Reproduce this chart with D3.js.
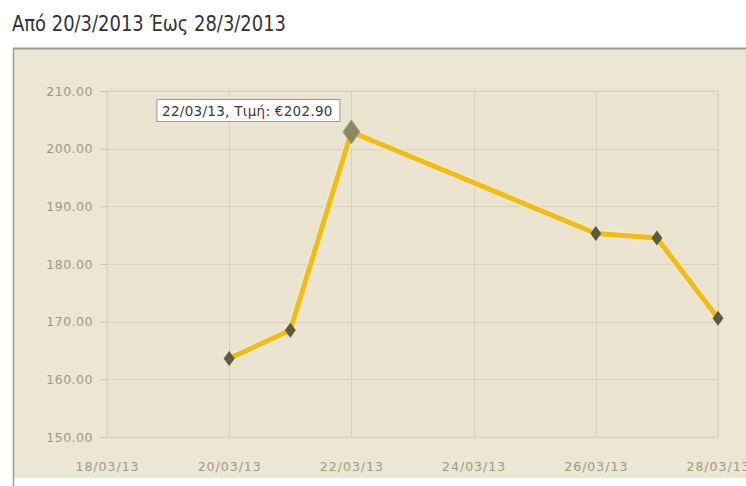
<!DOCTYPE html>
<html>
<head>
<meta charset="utf-8">
<script src="https://cdn.jsdelivr.net/npm/d3@7"></script>
<style>
  body { margin: 0; background: #ffffff; }
  svg { display: block; }
</style>
</head>
<body>
<div id="chart"></div>
<script>
// ---------------- data ----------------
var dates = ["2013-03-20", "2013-03-21", "2013-03-22", "2013-03-26", "2013-03-27", "2013-03-28"];
var prices = [163.6, 168.5, 202.9, 185.3, 184.5, 170.6];
var yTicks = [150, 160, 170, 180, 190, 200, 210];
var xTicks = ["2013-03-18", "2013-03-20", "2013-03-22", "2013-03-24", "2013-03-26", "2013-03-28"];
var title = "Από 20/3/2013 Έως 28/3/2013";
var highlight = 2; // point with tooltip
var tooltipText = "22/03/13, Τιμή: €202.90";

var width = 746, height = 486;
var parse = d3.timeParse("%Y-%m-%d");
var fmtX = d3.timeFormat("%d/%m/%y");

var data = dates.map(function(d, i) { return { date: parse(d), value: prices[i] }; });

// ---------------- definitions ----------------
var plot = { left: 107, right: 718, top: 91, bottom: 437 };

var x = d3.scaleTime()
    .domain([parse(xTicks[0]), parse(xTicks[xTicks.length - 1])])
    .range([plot.left, plot.right]);

var y = d3.scaleLinear()
    .domain([150, 210])
    .range([plot.bottom, plot.top]);

var svg = d3.select("#chart").append("svg")
    .attr("width", width)
    .attr("height", height);

// title
svg.append("text")
    .attr("x", 12)
    .attr("y", 31)
    .attr("textLength", 274)
    .attr("lengthAdjust", "spacingAndGlyphs")
    .style("font-family", "'Liberation Sans Narrow', 'DejaVu Sans Condensed', 'Liberation Sans', sans-serif")
    .style("font-size", "21px")
    .style("fill", "#333333")
    .text(title);

// panel
svg.append("rect")
    .attr("x", 13).attr("y", 48)
    .attr("width", width).attr("height", 430)
    .style("fill", "#ece6d5");
svg.append("line")
    .attr("x1", 13).attr("x2", width).attr("y1", 48.5).attr("y2", 48.5)
    .style("stroke", "#9a9a94").style("stroke-width", 2);
svg.append("line")
    .attr("x1", 13.5).attr("x2", 13.5).attr("y1", 48).attr("y2", height)
    .style("stroke", "#9a9a94").style("stroke-width", 1.5);

// plot area
svg.append("rect")
    .attr("x", plot.left).attr("y", plot.top)
    .attr("width", plot.right - plot.left).attr("height", plot.bottom - plot.top)
    .style("fill", "#eae4d1")
    .style("stroke", "#ddd6c1");

// grid
var grid = svg.append("g").attr("class", "grid");
grid.selectAll(".hgrid")
    .data(yTicks)
    .enter().append("line")
    .attr("class", "hgrid")
    .attr("x1", plot.left).attr("x2", plot.right)
    .attr("y1", function(d) { return Math.round(y(d)) + 0.5; })
    .attr("y2", function(d) { return Math.round(y(d)) + 0.5; })
    .style("stroke", "#d9d1b9");
grid.selectAll(".vgrid")
    .data(xTicks)
    .enter().append("line")
    .attr("class", "vgrid")
    .attr("x1", function(d) { return Math.round(x(parse(d))) + 0.5; })
    .attr("x2", function(d) { return Math.round(x(parse(d))) + 0.5; })
    .attr("y1", plot.top).attr("y2", plot.bottom)
    .style("stroke", "#d9d1b9");

// axes
var yAxis = d3.axisLeft(y)
    .tickValues(yTicks)
    .tickFormat(d3.format(".2f"))
    .tickSize(7)
    .tickPadding(7);

var xAxis = d3.axisBottom(x)
    .tickValues(xTicks.map(parse))
    .tickFormat(fmtX)
    .tickSize(0)
    .tickPadding(25);

var gy = svg.append("g")
    .attr("transform", "translate(" + plot.left + ",0)")
    .call(yAxis);
gy.select(".domain").remove();
gy.selectAll(".tick line").style("stroke", "#c9c2a9");
gy.selectAll(".tick text")
    .style("font-family", "'DejaVu Sans', Verdana, sans-serif")
    .style("font-size", "12.5px")
    .style("letter-spacing", "0.5px")
    .style("fill", "#a09a7e");

var gx = svg.append("g")
    .attr("transform", "translate(0," + plot.bottom + ")")
    .call(xAxis);
gx.select(".domain").remove();
gx.selectAll(".tick text")
    .style("font-family", "'DejaVu Sans', Verdana, sans-serif")
    .style("font-size", "12.5px")
    .style("letter-spacing", "1px")
    .style("fill", "#a09a7e");

// line
var line = d3.line()
    .x(function(d) { return x(d.date); })
    .y(function(d) { return y(d.value); });

svg.append("path")
    .datum(data)
    .attr("d", line)
    .style("fill", "none")
    .style("stroke", "#f7eab0")
    .style("stroke-width", 8.5)
    .style("stroke-linejoin", "round")
    .style("opacity", 0.8);

svg.append("path")
    .datum(data)
    .attr("d", line)
    .style("fill", "none")
    .style("stroke", "#edbb25")
    .style("stroke-width", 5)
    .style("stroke-linejoin", "round");

// diamond markers
function diamond(w, h) {
  return "M0," + (-h / 2) + "L" + (w / 2) + ",0L0," + (h / 2) + "L" + (-w / 2) + ",0Z";
}

svg.selectAll(".marker")
    .data(data)
    .enter().append("path")
    .attr("class", "marker")
    .attr("transform", function(d) { return "translate(" + x(d.date) + "," + y(d.value) + ")"; })
    .attr("d", function(d, i) { return i == highlight ? diamond(17, 24) : diamond(11, 15); })
    .style("fill", function(d, i) { return i == highlight ? "#8a8762" : "#5c5b3c"; })
    .style("stroke", function(d, i) { return i == highlight ? "#a9a57d" : "none"; });

// tooltip
var hp = data[highlight];
var tip = svg.append("g")
    .attr("transform", "translate(" + (x(hp.date) - 10) + "," + (y(hp.value) - 32) + ")");
var tipText = tip.append("text")
    .attr("x", -94)
    .attr("y", 16)
    .attr("text-anchor", "middle")
    .style("font-family", "'DejaVu Sans', Verdana, sans-serif")
    .style("font-size", "13.5px")
    .style("letter-spacing", "0.3px")
    .style("fill", "#3a3a3a")
    .text(tooltipText);
var bb = tipText.node().getBBox();
tip.insert("rect", "text")
    .attr("x", Math.round(bb.x - 6) + 0.5)
    .attr("y", -0.5)
    .attr("width", Math.round(bb.width + 12))
    .attr("height", 22)
    .style("fill", "#ffffff")
    .style("stroke", "#9a9a94");
</script>
</body>
</html>
